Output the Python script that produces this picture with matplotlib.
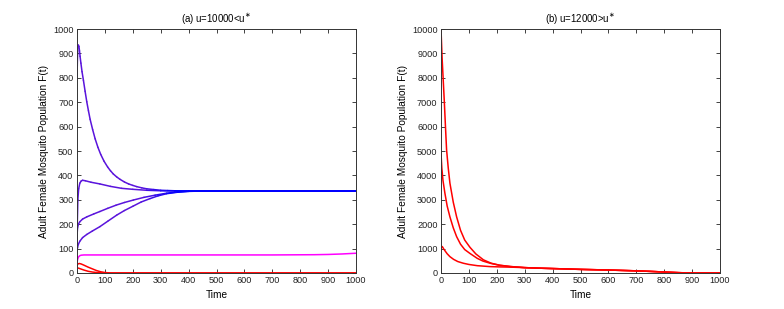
import numpy as np
import matplotlib
matplotlib.use("Agg")
import matplotlib.pyplot as plt
from matplotlib.collections import LineCollection
from matplotlib.colors import to_rgb

plt.rcParams['font.family'] = ['Liberation Sans', 'DejaVu Sans']

# ---------------- Panel (a): u = 10000 < u* ----------------
a1_t = [0, 1, 2, 3, 5, 7, 9, 11, 14, 18, 23, 29, 35, 41, 47, 56, 65, 75, 85, 97, 110, 120, 130,
        142, 154, 170, 185, 200, 214, 232, 250, 275, 300, 325, 350, 400, 1000]
a1_v = [800, 850, 895, 922, 934, 928, 910, 888, 860, 825, 790, 745, 702, 665, 630, 588, 550, 515, 486,
        458, 434, 419, 406, 394, 384, 373, 365, 359, 354, 349, 345, 342, 339, 338, 337, 336, 336]

a2_t = [0, 1, 3, 6, 10, 15, 20, 30, 50, 82, 120, 160, 200, 250, 300, 350, 1000]
a2_v = [100, 200, 300, 345, 368, 377, 380, 378, 372, 365, 355, 347, 343, 339, 337, 336, 336]

a3_t = [0, 1, 2, 5, 10, 20, 35, 60, 82, 110, 140, 170, 202, 240, 280, 321, 360, 400, 450, 1000]
a3_v = [150, 170, 185, 200, 210, 221, 230, 242, 252, 265, 278, 289, 299, 310, 319, 327, 332, 335, 336, 336]

a4_t = [0, 1, 2, 5, 10, 20, 35, 55, 82, 110, 142, 170, 201, 230, 262, 290, 321, 360, 400, 450, 1000]
a4_v = [90, 98, 105, 118, 130, 145, 158, 172, 190, 212, 237, 256, 274, 291, 305, 316, 325, 331, 334.5, 336, 336]

mag_t = [0, 2, 5, 10, 15, 25, 50, 100, 300, 500, 700, 850, 900, 950, 1000]
mag_v = [40, 55, 65, 71, 73, 74, 74, 74, 74, 74, 74, 75, 76, 78, 81]

r1_t = [0, 3, 8, 15, 25, 40, 55, 70, 85, 100, 120, 1000]
r1_v = [30, 37, 39, 37, 32, 24, 17, 10, 5, 2, 0, 0]

r2_t = [0, 5, 15, 25, 40, 55, 70, 90, 110, 1000]
r2_v = [22, 20, 16, 12, 7, 4, 2, 0.5, 0, 0]

# ---------------- Panel (b): u = 12000 > u* ----------------
tail_t = [300, 355, 400, 500, 600, 700, 750, 800, 850, 880, 900, 1000]
tail_v = [220, 197, 182, 148, 122, 88, 66, 40, 15, 4, 0, 0]

b1_t = [0, 4, 8, 12, 16, 20, 26, 32, 44, 56, 70, 85, 104, 125, 152, 180, 210, 250]
b1_v = [10000, 8800, 7900, 7000, 6000, 5050, 4300, 3680, 2900, 2300, 1750, 1350, 1050, 780, 540, 400, 320, 265]

b2_t = [0, 3, 7, 14, 22, 32, 44, 56, 70, 85, 104, 130, 150, 176, 210, 250]
b2_v = [4900, 4300, 3800, 3270, 2750, 2300, 1850, 1490, 1180, 960, 800, 600, 490, 400, 315, 262]

b3_t = [0, 1, 3, 6, 10, 15, 22, 32, 45, 60, 80, 100, 130, 176, 210, 250]
b3_v = [1000, 1060, 1090, 1060, 980, 900, 790, 670, 560, 470, 400, 350, 300, 262, 250, 240]

x_ticks = list(range(0, 1001, 100))
ya_ticks = list(range(0, 1001, 100))
yb_ticks = list(range(0, 10001, 1000))

PURPLE = to_rgb('#5a14dc')
BLUE = to_rgb('#0000ff')


def gradient_line(ax, t, v, lw=1.1):
    t = np.asarray(t, float)
    v = np.asarray(v, float)
    pts = np.column_stack([t, v]).reshape(-1, 1, 2)
    segs = np.concatenate([pts[:-1], pts[1:]], axis=1)
    mid = 0.5 * (t[:-1] + t[1:])
    f = np.clip((mid - 230) / 130.0, 0, 1)[:, None]
    cols = (1 - f) * np.array(PURPLE) + f * np.array(BLUE)
    lc = LineCollection(segs, colors=cols, linewidths=lw, capstyle='round', joinstyle='round')
    ax.add_collection(lc)


fig = plt.figure(figsize=(7.84, 3.09), dpi=100)
axa = fig.add_axes([77 / 784, 1 - 273 / 309, 279 / 784, 244 / 309])
axb = fig.add_axes([441 / 784, 1 - 273 / 309, 279 / 784, 244 / 309])

# panel a
axa.plot(r1_t, r1_v, color='#ff0000', lw=1.1)
axa.plot(r2_t, r2_v, color='#ff0000', lw=1.1)
axa.plot(mag_t, mag_v, color='#ff00ff', lw=1.1)
for tt, vv in [(a4_t, a4_v), (a3_t, a3_v), (a2_t, a2_v), (a1_t, a1_v)]:
    gradient_line(axa, tt, vv)

# panel b
for tt, vv in [(b1_t, b1_v), (b2_t, b2_v), (b3_t, b3_v)]:
    axb.plot(list(tt) + tail_t, list(vv) + tail_v, color='#ff0000', lw=1.1)

for ax, yt, ylim, title in [
    (axa, ya_ticks, 1000, r'(a) u=10000<u$^{\ast}$'),
    (axb, yb_ticks, 10000, r'(b) u=12000>u$^{\ast}$'),
]:
    ax.set_xlim(0, 1000)
    ax.set_ylim(0, ylim)
    ax.set_xticks(x_ticks)
    ax.set_yticks(yt)
    ax.tick_params(direction='in', length=3, width=0.6, labelsize=6.6,
                   top=True, right=True, pad=2.5, colors='#222222')
    for s in ax.spines.values():
        s.set_linewidth(0.7)
        s.set_color('#333333')
    ax.set_xlabel('Time', fontsize=7.3, labelpad=3)
    ax.set_ylabel('Adult Female Mosquito Population F(t)', fontsize=7.3, labelpad=3)
    ax.set_title(title, fontsize=6.9, pad=4)

fig.savefig('out.png', dpi=100)
